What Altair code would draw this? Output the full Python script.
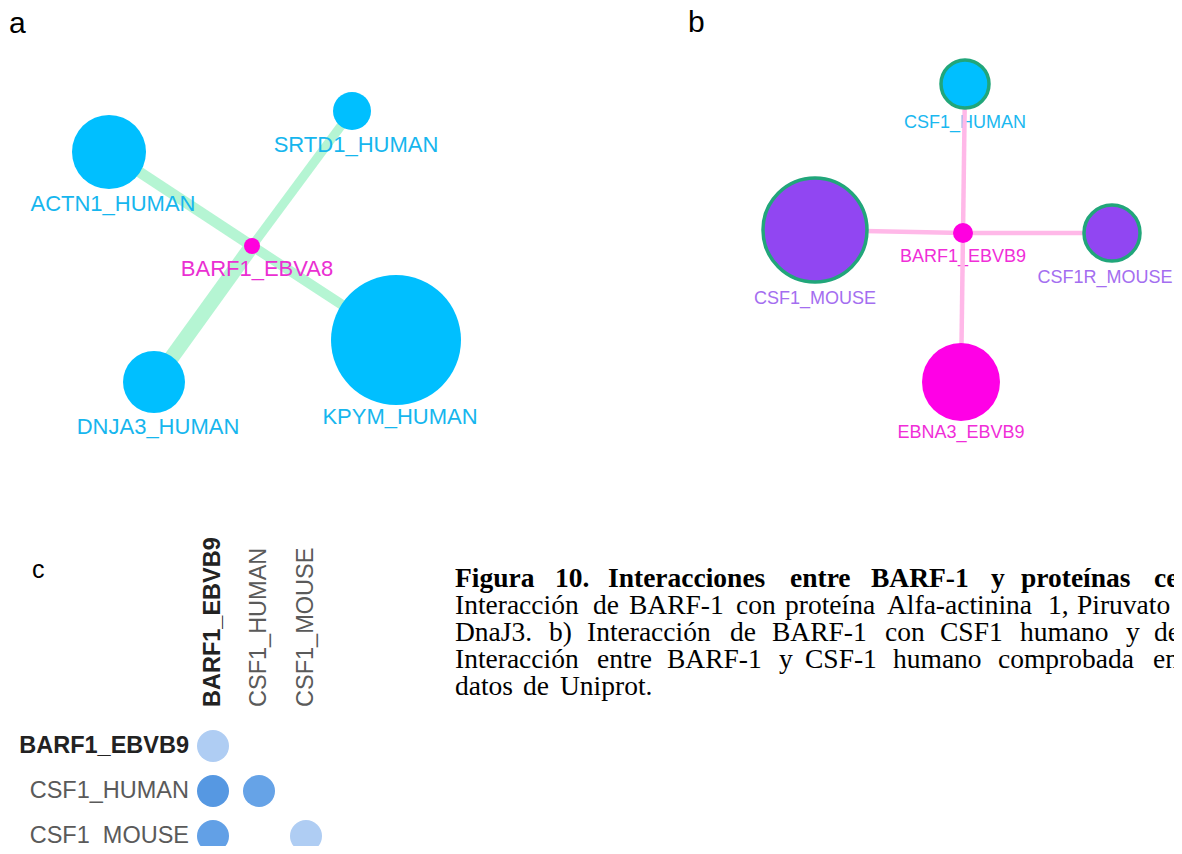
import altair as alt
import pandas as pd

W, H = 1166, 838  # plot area = page minus the 8px margin; 1 unit = 1 px

# ---------------- Panel a : network around BARF1_EBVA8 ----------------
a_nodes = ["BARF1_EBVA8", "ACTN1_HUMAN", "SRTD1_HUMAN", "DNJA3_HUMAN", "KPYM_HUMAN"]
a_node_x = [252, 109, 352, 154, 396]
a_node_y = [246, 152, 111, 382, 340]
a_node_r = [8, 37, 19, 31, 65]
a_node_fill = ["#ff00dd", "#00bfff", "#00bfff", "#00bfff", "#00bfff"]
a_label_x = [257, 113, 356, 158, 400]
a_label_y = [269, 204, 145, 427, 417]
a_label_color = ["#ea2fd2", "#16b6ee", "#16b6ee", "#16b6ee", "#16b6ee"]
a_edge_target = [1, 2, 3, 4]
a_edge_width = [11, 9, 15, 10]

# ---------------- Panel b : network around BARF1_EBVB9 ----------------
b_nodes = ["BARF1_EBVB9", "CSF1_HUMAN", "CSF1_MOUSE", "CSF1R_MOUSE", "EBNA3_EBVB9"]
b_node_x = [963, 965, 815, 1112, 961]
b_node_y = [233, 84, 230, 233, 382]
b_node_r = [10, 24, 52, 28, 39]
b_node_fill = ["#ff00e0", "#00bfff", "#9146f2", "#9146f2", "#ff00e6"]
b_node_ring = [False, True, True, True, False]
b_label_x = [963, 965, 815, 1105, 961]
b_label_y = [257, 123, 299, 278, 433]
b_label_color = ["#f02ed8", "#1ab8f0", "#a46ef0", "#a46ef0", "#f02ed8"]
b_edge_target = [1, 2, 3, 4]

# ---------------- Panel c : interaction matrix ----------------
c_names = ["BARF1_EBVB9", "CSF1_HUMAN", "CSF1_MOUSE"]
c_bold = [True, False, False]
c_col_x = [213, 259, 306]
c_row_y = [746, 791, 836]
c_cell_row = [0, 1, 1, 2, 2]
c_cell_col = [0, 0, 1, 0, 2]
c_cell_color = ["#afcdf3", "#5698e2", "#66a3e7", "#62a0e6", "#afcdf3"]
c_cell_r = 16

# ---------------- Panel letters ----------------
letters = ["a", "b", "c"]
letter_x = [9, 688, 32]
letter_y = [33, 32, 578]
letter_size = [30, 30, 25]

# ---------------- Caption (justified lines placed word by word) ----------------
cap_line_y = [587, 614, 641, 668, 695]
cap_words = [
    ["Figura", "10.", "Interacciones", "entre", "BARF-1", "y", "proteínas", "celulares."],
    ["Interacción", "de", "BARF-1", "con", "proteína", "Alfa-actinina", "1,", "Piruvato"],
    ["DnaJ3.", "b)", "Interacción", "de", "BARF-1", "con", "CSF1", "humano", "y", "de"],
    ["Interacción", "entre", "BARF-1", "y", "CSF-1", "humano", "comprobada", "en"],
    ["datos", "de", "Uniprot."],
]
cap_word_x = [
    [455, 555, 608, 790, 871, 991, 1021, 1154],
    [455, 593, 629, 736, 785, 887, 1048, 1077],
    [455, 549, 587, 730, 772, 885, 940, 1020, 1126, 1154],
    [455, 597, 667, 779, 805, 893, 998, 1153],
    [455, 523, 560],
]

# ---------------- tables ----------------
def sym_size(r):
    # Vega symbol size is the area of the bounding square: (2r)^2
    return (2 * r) ** 2

xs = alt.Scale(domain=[8, 8 + W], nice=False, zero=False)
ys = alt.Scale(domain=[8, 8 + H], nice=False, zero=False, reverse=True)
X = alt.X("x:Q", scale=xs, axis=None)
Y = alt.Y("y:Q", scale=ys, axis=None)

a_edges = pd.DataFrame({
    "x": [a_node_x[0]] * 4, "y": [a_node_y[0]] * 4,
    "x2": [a_node_x[i] for i in a_edge_target],
    "y2": [a_node_y[i] for i in a_edge_target],
    "w": a_edge_width,
})
a_nodes_df = pd.DataFrame({"x": a_node_x, "y": a_node_y,
                           "s": [sym_size(r) for r in a_node_r], "fill": a_node_fill})
a_labels_df = pd.DataFrame({"x": a_label_x, "y": a_label_y, "t": a_nodes, "c": a_label_color})

b_edges = pd.DataFrame({
    "x": [b_node_x[0]] * 4, "y": [b_node_y[0]] * 4,
    "x2": [b_node_x[i] for i in b_edge_target],
    "y2": [b_node_y[i] for i in b_edge_target],
})
b_nodes_df = pd.DataFrame({"x": b_node_x, "y": b_node_y,
                           "s": [sym_size(r) for r in b_node_r], "fill": b_node_fill,
                           "ring": b_node_ring})
b_labels_df = pd.DataFrame({"x": b_label_x, "y": b_label_y, "t": b_nodes, "c": b_label_color})

c_cells = pd.DataFrame({
    "x": [c_col_x[j] for j in c_cell_col],
    "y": [c_row_y[i] for i in c_cell_row],
    "fill": c_cell_color,
})
c_rows = pd.DataFrame({"x": [189] * 3, "y": c_row_y, "t": c_names, "b": c_bold})
c_cols = pd.DataFrame({"x": c_col_x, "y": [707] * 3, "t": c_names, "b": c_bold})

letters_df = pd.DataFrame({"x": letter_x, "y": letter_y, "t": letters, "s": letter_size})

cap_rows = []
for li, (words, xs_) in enumerate(zip(cap_words, cap_word_x)):
    for w, x in zip(words, xs_):
        cap_rows.append({"x": x, "y": cap_line_y[li], "t": w, "bold": li == 0})
cap_df = pd.DataFrame(cap_rows)

# ---------------- layers ----------------
layers = []

# panel a
layers.append(alt.Chart(a_edges).mark_rule(color="#b5f5d3", strokeCap="butt").encode(
    x=X, y=Y, x2="x2:Q", y2="y2:Q", strokeWidth=alt.StrokeWidth("w:Q", scale=None)))
layers.append(alt.Chart(a_nodes_df).mark_circle(opacity=1).encode(
    x=X, y=Y, size=alt.Size("s:Q", scale=None), color=alt.Color("fill:N", scale=None)))
layers.append(alt.Chart(a_labels_df).mark_text(
    font="Liberation Sans", fontSize=22, align="center", baseline="middle").encode(
    x=X, y=Y, text="t:N", color=alt.Color("c:N", scale=None)))

# panel b
layers.append(alt.Chart(b_labels_df).mark_text(
    font="Liberation Sans", fontSize=18, align="center", baseline="middle").encode(
    x=X, y=Y, text="t:N", color=alt.Color("c:N", scale=None)))
layers.append(alt.Chart(b_edges).mark_rule(color="#ffb8e8", strokeWidth=4.5).encode(
    x=X, y=Y, x2="x2:Q", y2="y2:Q"))
layers.append(alt.Chart(b_nodes_df).transform_filter("datum.ring").mark_circle(
    opacity=1, stroke="#21a67a", strokeWidth=3.5, strokeOpacity=1).encode(
    x=X, y=Y, size=alt.Size("s:Q", scale=None), fill=alt.Fill("fill:N", scale=None)))
layers.append(alt.Chart(b_nodes_df).transform_filter("!datum.ring").mark_circle(opacity=1).encode(
    x=X, y=Y, size=alt.Size("s:Q", scale=None), color=alt.Color("fill:N", scale=None)))

# panel c
layers.append(alt.Chart(c_cells).mark_circle(opacity=1, size=sym_size(c_cell_r)).encode(
    x=X, y=Y, color=alt.Color("fill:N", scale=None)))
layers.append(alt.Chart(c_rows).transform_filter("datum.b").mark_text(
    font="Liberation Sans", fontSize=23.5, fontWeight="bold", color="#222222",
    align="right", baseline="middle").encode(x=X, y=Y, text="t:N"))
layers.append(alt.Chart(c_rows).transform_filter("!datum.b").mark_text(
    font="Liberation Sans", fontSize=23.5, color="#5a5a5a",
    align="right", baseline="middle").encode(x=X, y=Y, text="t:N"))
layers.append(alt.Chart(c_cols).transform_filter("datum.b").mark_text(
    font="Liberation Sans", fontSize=23.5, fontWeight="bold", color="#222222",
    align="left", baseline="middle", angle=270).encode(x=X, y=Y, text="t:N"))
layers.append(alt.Chart(c_cols).transform_filter("!datum.b").mark_text(
    font="Liberation Sans", fontSize=23.5, color="#5a5a5a",
    align="left", baseline="middle", angle=270).encode(x=X, y=Y, text="t:N"))

# letters
layers.append(alt.Chart(letters_df).mark_text(
    font="Liberation Sans", color="#000000", align="left", baseline="alphabetic").encode(
    x=X, y=Y, text="t:N", size=alt.Size("s:Q", scale=None)))

# caption
layers.append(alt.Chart(cap_df).transform_filter("datum.bold").mark_text(
    font="Liberation Serif", fontSize=27.5, fontWeight="bold", color="#000000",
    align="left", baseline="alphabetic").encode(x=X, y=Y, text="t:N"))
layers.append(alt.Chart(cap_df).transform_filter("!datum.bold").mark_text(
    font="Liberation Serif", fontSize=27.5, color="#000000",
    align="left", baseline="alphabetic").encode(x=X, y=Y, text="t:N"))

chart = alt.layer(*layers).properties(
    width=W, height=H, padding=0,
    autosize=alt.AutoSizeParams(type="none"),
).configure_view(stroke=None)

chart.save("out.html", embed_options={"renderer": "svg", "actions": False})
